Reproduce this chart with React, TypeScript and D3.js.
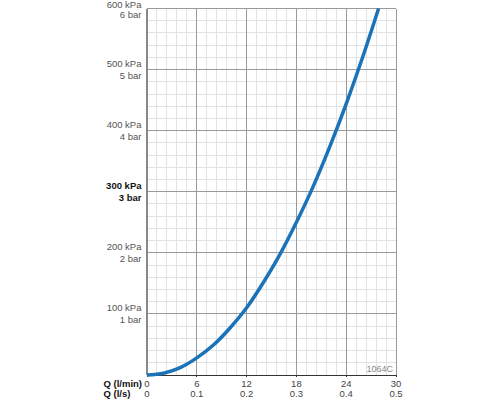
import React from 'react';
import * as d3 from 'd3';

// flow (l/min) vs pressure loss (kPa)
const flowLpm = [0, 2, 4, 6, 8, 10, 12, 14, 16, 18, 20, 22, 24, 26, 27.9];
const pressureKpa = [0, 3, 12, 28, 49, 77, 110, 151, 197, 250, 308, 373, 444, 521, 600];

const xTicks = [0, 6, 12, 18, 24, 30];
const xTicksLs = ['0', '0.1', '0.2', '0.3', '0.4', '0.5'];
const yTicks = [100, 200, 300, 400, 500, 600];
const yTicksBar = ['1 bar', '2 bar', '3 bar', '4 bar', '5 bar', '6 bar'];
const highlightKpa = 300;
const chartCode = '1064C';

const W = 500;
const H = 400;
const FONT = '"Liberation Sans", Arial, sans-serif';

const App: React.FC = () => {
  const x = d3.scaleLinear().domain([0, 30]).range([147, 396]);
  const y = d3.scaleLinear().domain([0, 600]).range([375, 8.5]);

  const minorX = d3.range(0, 30.001, 1.2);
  const minorY = d3.range(0, 600.001, 20);

  const line = d3.line<number>()
    .x((_, i) => x(flowLpm[i]))
    .y(d => y(d))
    .curve(d3.curveMonotoneX);

  return (
    <div style={{ position: 'absolute', left: 0, top: 0 }}>
      <svg width={W} height={H} style={{ display: 'block', fontFamily: FONT }}>
        <rect width={W} height={H} fill="#fff" />
        <g shapeRendering="crispEdges">
          {minorX.map(v => (
            <line key={'mx' + v} x1={x(v)} x2={x(v)} y1={y(0)} y2={y(600)} stroke="#e2e2e2" strokeWidth={1} />
          ))}
          {minorY.map(v => (
            <line key={'my' + v} x1={x(0)} x2={x(30)} y1={y(v)} y2={y(v)} stroke="#e2e2e2" strokeWidth={1} />
          ))}
          {xTicks.map(v => (
            <line key={'MX' + v} x1={x(v)} x2={x(v)} y1={y(0)} y2={y(600)} stroke="#9a9a9a" strokeWidth={1} />
          ))}
          {yTicks.map(v => (
            <line key={'MY' + v} x1={x(0)} x2={x(30)} y1={y(v)} y2={y(v)} stroke="#9a9a9a" strokeWidth={1} />
          ))}
          <line x1={x(0)} x2={x(0)} y1={y(0)} y2={y(600)} stroke="#888" strokeWidth={1.2} />
          <line x1={x(0)} x2={x(30)} y1={y(0)} y2={y(0)} stroke="#333" strokeWidth={1} />
          {xTicks.map(v => (
            <line key={'t' + v} x1={x(v)} x2={x(v)} y1={y(0)} y2={y(0) + 2} stroke="#333" strokeWidth={1} />
          ))}
        </g>

        <path d={line(pressureKpa) ?? ''} fill="none" stroke="#1a72b8" strokeWidth={3.5} strokeLinecap="butt" />

        {yTicks.map((v, i) => {
          const bold = v === highlightKpa;
          const fill = bold ? '#111' : '#555';
          return (
            <g key={'yl' + v} fontSize={9.5} textAnchor="end" fill={fill} fontWeight={bold ? 'bold' : 'normal'}>
              <text x={141.5} y={Math.max(y(v) - 2.5, 7.6)}>{v} kPa</text>
              <text x={141.5} y={y(v) + 9}>{yTicksBar[i]}</text>
            </g>
          );
        })}

        <g fontSize={9.5} fill="#111" fontWeight="bold">
          <text x={103.5} y={387}>Q (l/min)</text>
          <text x={103.5} y={397}>Q (l/s)</text>
        </g>
        {xTicks.map((v, i) => (
          <g key={'xl' + v} fontSize={9.5} textAnchor="middle" fill="#444">
            <text x={x(v)} y={387}>{v}</text>
            <text x={x(v)} y={397}>{xTicksLs[i]}</text>
          </g>
        ))}

        <text x={393} y={372} fontSize={9} textAnchor="end" fill="#888">{chartCode}</text>
      </svg>
    </div>
  );
};

export default App;
